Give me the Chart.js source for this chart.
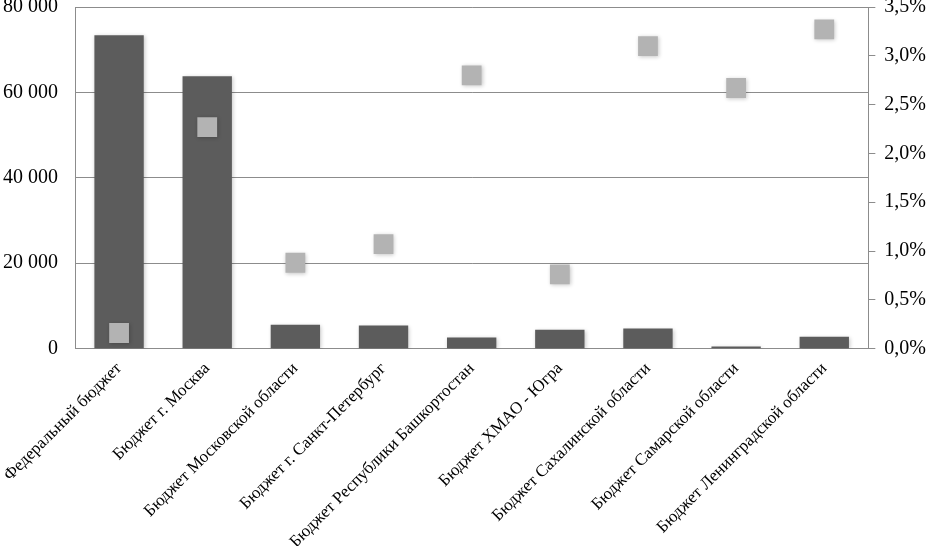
<!DOCTYPE html>
<html>
<head>
<meta charset="utf-8">
<script src="https://cdn.jsdelivr.net/npm/chart.js@4/dist/chart.umd.min.js"></script>
<style>
    html, body { margin: 0; padding: 0; background: #fff; overflow: hidden; }
    #wrap { width: 929px; height: 568px; margin-top: -22px; }
</style>
</head>
<body>
<div id="wrap"><canvas id="budgetChart"></canvas></div>
<script>
const budgetNames = [
    "Федеральный бюджет",
    "Бюджет г. Москва",
    "Бюджет Московской области",
    "Бюджет г. Санкт-Петербург",
    "Бюджет Республики Башкортостан",
    "Бюджет ХМАО - Югра",
    "Бюджет Сахалинской области",
    "Бюджет Самарской области",
    "Бюджет Ленинградской области"
];
const budgetAmounts = [73400, 63800, 5600, 5400, 2600, 4400, 4700, 500, 2800];
const budgetShares = [0.16, 2.27, 0.88, 1.07, 2.80, 0.76, 3.10, 2.67, 3.27];
const leftTicks = [0, 20000, 40000, 60000, 80000];
const rightTicks = [0, 0.5, 1.0, 1.5, 2.0, 2.5, 3.0, 3.5];

const serif = "'Liberation Serif', 'DejaVu Serif', serif";

// soft shadow under bars and markers
const shadowPlugin = {
    id: "softShadow",
    beforeDatasetsDraw(chart) {
        const ctx = chart.ctx;
        ctx.save();
        ctx.shadowColor = "rgba(0, 0, 0, 0.22)";
        ctx.shadowBlur = 4;
        ctx.shadowOffsetX = 1;
        ctx.shadowOffsetY = 1;
    },
    afterDatasetsDraw(chart) {
        chart.ctx.restore();
    }
};

function spaced(v) {
    return String(v).replace(/\B(?=(\d{3})+(?!\d))/g, " ");
}

new Chart(document.getElementById("budgetChart"), {
    data: {
        labels: budgetNames,
        datasets: [
            {
                type: "line",
                data: budgetShares,
                yAxisID: "y2",
                showLine: false,
                pointStyle: "rect",
                pointRadius: 14,
                pointBackgroundColor: "#b3b3b3",
                pointBorderWidth: 0,
                order: 1
            },
            {
                type: "bar",
                data: budgetAmounts,
                yAxisID: "y",
                backgroundColor: "#5c5c5c",
                categoryPercentage: 0.56,
                barPercentage: 1,
                order: 2
            }
        ]
    },
    options: {
        responsive: true,
        maintainAspectRatio: false,
        animation: false,
        layout: { padding: { top: 0, right: -6, left: -14, bottom: -8 } },
        plugins: {
            legend: { display: false },
            tooltip: { enabled: false }
        },
        scales: {
            x: {
                offset: true,
                grid: { display: false },
                border: { color: "#8c8c8c", width: 1 },
                ticks: {
                    color: "#000",
                    minRotation: 45,
                    maxRotation: 45,
                    padding: 2,
                    font: { family: serif, size: 17 }
                }
            },
            y: {
                position: "left",
                min: 0,
                max: 80000,
                afterBuildTicks(axis) {
                    axis.ticks = leftTicks.map(v => ({ value: v }));
                },
                grid: { color: "#8c8c8c", lineWidth: 1, drawTicks: false },
                border: { color: "#8c8c8c", width: 1 },
                ticks: {
                    color: "#000",
                    padding: 17,
                    font: { family: serif, size: 20 },
                    callback: v => spaced(v)
                }
            },
            y2: {
                position: "right",
                min: 0,
                max: 3.5,
                afterBuildTicks(axis) {
                    axis.ticks = rightTicks.map(v => ({ value: v }));
                },
                grid: { drawOnChartArea: false, color: "#8c8c8c", tickLength: 7 },
                border: { color: "#8c8c8c", width: 1 },
                ticks: {
                    color: "#000",
                    padding: 9,
                    font: { family: serif, size: 20 },
                    callback: v => v.toFixed(1).replace(".", ",") + "%"
                }
            }
        }
    },
    plugins: [shadowPlugin]
});
</script>
</body>
</html>
